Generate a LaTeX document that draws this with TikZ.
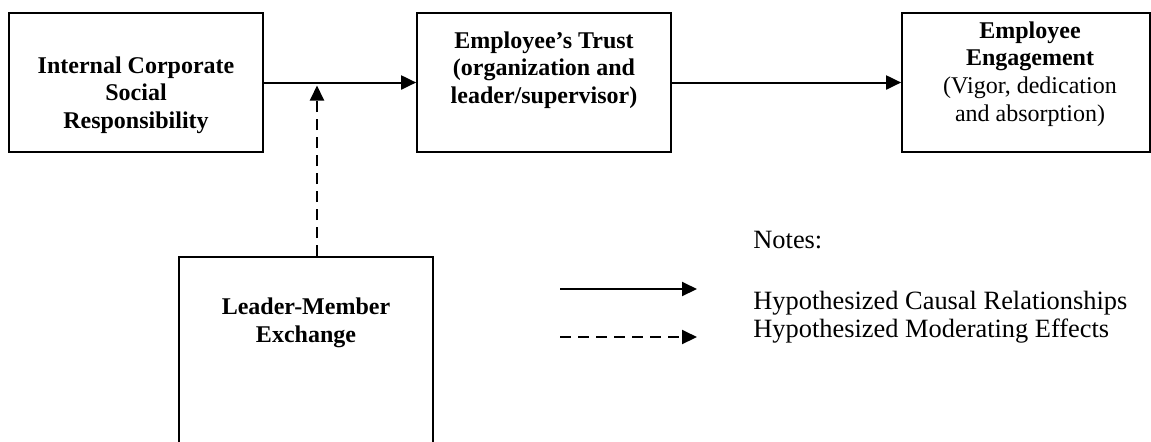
\documentclass[tikz,border=0pt]{standalone}
\usepackage{fontspec}
\setmainfont{Liberation Serif}
\usetikzlibrary{arrows.meta}
\begin{document}
\begin{tikzpicture}[x=0.5pt,y=-0.5pt,
  box/.style={draw, line width=0.85pt, inner sep=0pt, minimum width=127pt, minimum height=69.5pt},
  lbl/.style={align=center, font=\fontsize{12}{13.8}\selectfont\bfseries, inner sep=0pt},
  causal/.style={line width=1pt, -{Triangle[length=7.5pt,width=7pt]}},
  moder/.style={causal, dash pattern=on 5.5pt off 3.5pt},
  note/.style={anchor=west, font=\fontsize{13.2}{14}\selectfont, inner sep=0pt}]
\useasboundingbox (0,0) rectangle (1151,441);
% boxes
\node[box] (icsr) at (136,82.5) {};
\node[box] (trust) at (544,82.5) {};
\node[box, minimum width=124pt] (engage) at (1026,82.5) {};
\node[box, minimum height=150pt, anchor=north] (lmx) at (306,256) {};
% box texts
\node[lbl] (icsrt) at (136,95) {Internal Corporate\\Social\\Responsibility};
\node[lbl] (trustt) at (544,70) {Employee’s Trust\\(organization and\\leader/supervisor)};
\node[lbl] (engaget) at (1030,74) {Employee\\Engagement\\\mdseries (Vigor, dedication\\\mdseries and absorption)};
\node[lbl] (lmxt) at (306,323) {Leader-Member\\Exchange};
% connectors
\draw[causal] (icsr) -- (trust);
\draw[causal] (trust) -- (engage);
\coordinate (mod) at (317,82.5);
\draw[moder, shorten >=1.5pt] (lmx.north -| mod) -- (mod);
% legend
\coordinate (c1s) at (560,289);
\coordinate (c1e) at (697,289);
\coordinate (c2s) at (560,337);
\coordinate (c2e) at (697,337);
\draw[causal] (c1s) -- (c1e);
\draw[moder] (c2s) -- (c2e);
\node[note] (notes) at (753,240) {Notes:};
\node[note] (h1) at (753,303) {Hypothesized Causal Relationships};
\node[note] (h2) at (753,331) {Hypothesized Moderating Effects};
\end{tikzpicture}
\end{document}
